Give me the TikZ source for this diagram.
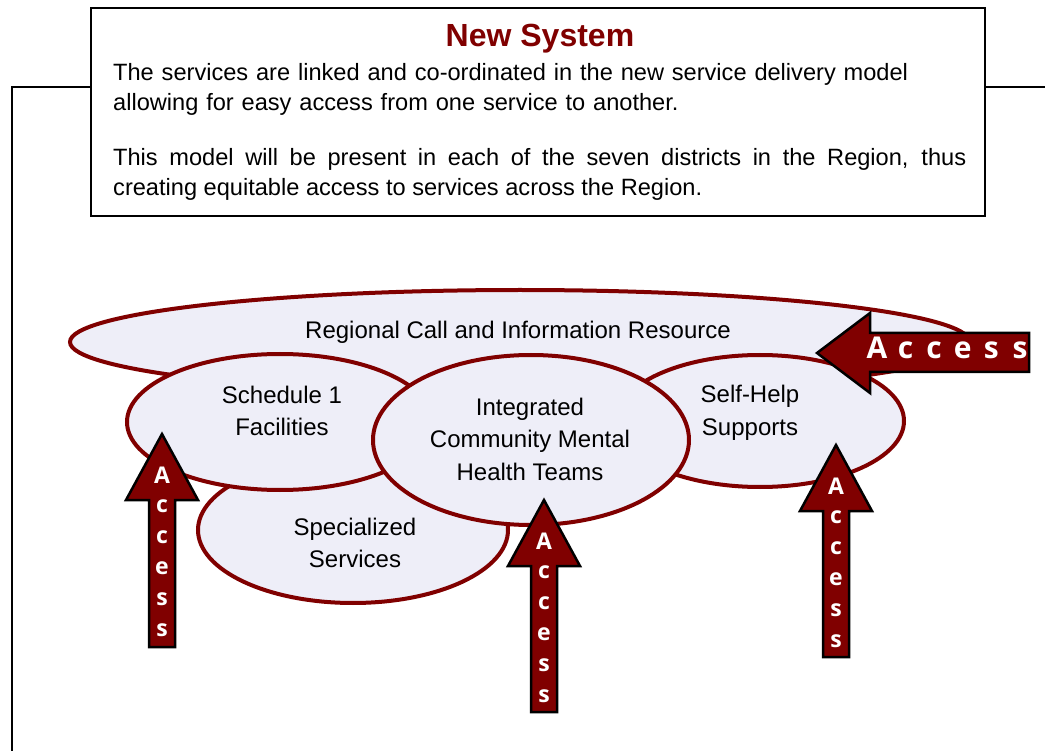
\documentclass[tikz,border=0pt]{standalone}
\usepackage{fontspec}
\setmainfont{Liberation Sans}
\newfontfamily\accfont{Open Sans}
\usetikzlibrary{shapes.geometric,positioning}

\definecolor{accred}{RGB}{128,0,0}
\definecolor{bloblav}{RGB}{238,238,248}

\begin{document}
\begin{tikzpicture}[x=1pt, y=-1pt, every node/.style={inner sep=0pt},
	blob/.style={ellipse, draw=accred, line width=4pt, fill=bloblav},
	lbl/.style={font=\fontsize{24}{32.5}\selectfont, align=center},
	acc/.style={fill=accred, draw=black, line width=2.5pt},
	acctext/.style={text=white, font=\accfont\bfseries\fontsize{23}{23}\selectfont}]
	\useasboundingbox (0,0) rectangle (1045,751);
	
	% frame behind the heading box
	\draw[line width=2pt] (12,751) -- (12,87) -- (1045,87);
	\node[draw, line width=2pt, fill=white, minimum width=894pt, minimum height=208pt] (sysbox) at (538,112) {};
	\node[anchor=base, text=accred, font=\bfseries\fontsize{32}{32}\selectfont] (title) at (540,47) {New System};
	\node[anchor=north west, text width=853pt, align=left, font=\fontsize{23.6}{29.5}\selectfont] (para1) at (113,63.5)
		{The services are linked and co-ordinated in the new service delivery model\\allowing for easy access from one service to another.};
	\node[anchor=north west, text width=853pt, align=justify, font=\fontsize{23.6}{29.5}\selectfont] (para2) at (113,148.5)
		{This model will be present in each of the seven districts in the Region, thus\linebreak creating equitable access to services across the Region.};
	
	% services
	\node[blob, minimum width=900pt, minimum height=104pt] (reg) at (520,342) {};
	\node[blob, minimum width=310pt, minimum height=146pt] (spec) at (353,530) {};
	\node[blob, minimum width=306pt, minimum height=136pt] (sched) at (280,422) {};
	\node[blob, minimum width=288pt, minimum height=132pt] (self) at (760,421) {};
	\node[blob, minimum width=316pt, minimum height=170pt] (integ) at (531,440) {};
	
	\node[lbl] (reglbl) at (518,332) {Regional Call and Information Resource};
	\node[lbl] (schedlbl) at (282,411) {Schedule 1\\Facilities};
	\node[lbl] (speclbl) at (355,543) {Specialized\\Services};
	\node[lbl] (integlbl) at (530,439) {Integrated\\Community Mental\\Health Teams};
	\node[lbl] (selflbl) at (750,413) {Self-Help\\Supports};
	
	% access arrows
	\foreach \cx/\tip/\bot in {162/434/647, 544/500/712, 836/445/657} {
		\draw[acc] (\cx,\tip) -- (\cx+36,\tip+66) -- (\cx+13,\tip+66) -- (\cx+13,\bot)
			-- (\cx-13,\bot) -- (\cx-13,\tip+66) -- (\cx-36,\tip+66) -- cycle;
		\foreach \ch [count=\i] in {A,c,c,e,s,s}
			\node[acctext] (up\cx-\i) at (\cx,\tip+41+31*\i-31) {\ch};
	}
	\draw[acc] (817,353) -- (870,313) -- (870,333) -- (1029,333) -- (1029,372) -- (870,372) -- (870,393) -- cycle;
	\foreach \ch [count=\i] in {A,c,c,e,s,s}
		\node[acctext, anchor=base, font=\accfont\bfseries\fontsize{30}{30}\selectfont] (left-\i) at (848.4+28.6*\i,359) {\ch};
\end{tikzpicture}
\end{document}
